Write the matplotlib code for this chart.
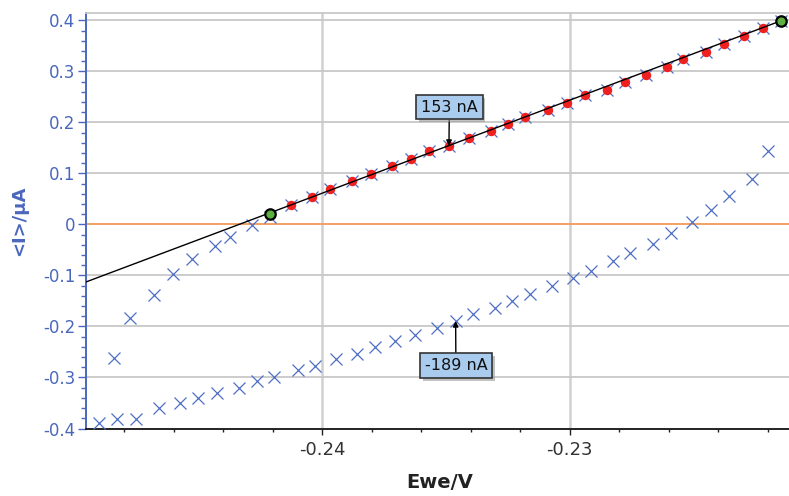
import matplotlib
matplotlib.use("Agg")
import matplotlib.pyplot as plt
from matplotlib.ticker import MultipleLocator, FuncFormatter
from matplotlib import patheffects

plt.rcParams['font.family'] = ['DejaVu Sans']
plt.rcParams['axes.unicode_minus'] = False

# ---- data (Ewe / V, <I> / uA) ----
lower_x = [-0.24903, -0.24830, -0.24752, -0.24658, -0.24576, -0.24502, -0.24425, -0.24338,
           -0.24265, -0.24196, -0.24099, -0.24029, -0.23946, -0.23861, -0.23788, -0.23707,
           -0.23625, -0.23538, -0.23461, -0.23392, -0.23302, -0.23234, -0.23161, -0.23070,
           -0.22987, -0.22916, -0.22825, -0.22758, -0.22662, -0.22592, -0.22505, -0.22430,
           -0.22357, -0.22264, -0.22198]
lower_y = [-0.3898, -0.3820, -0.3805, -0.3603, -0.3497, -0.3400, -0.3300, -0.3197,
           -0.3066, -0.2994, -0.2863, -0.2770, -0.2640, -0.2535, -0.2410, -0.2287,
           -0.2160, -0.2037, -0.1894, -0.1756, -0.1638, -0.1507, -0.1356, -0.1199,
           -0.1049, -0.0904, -0.0721, -0.0570, -0.0393, -0.0171, 0.0051, 0.0281,
           0.0556, 0.0890, 0.1446]

upper_left_x = [-0.24840, -0.24775, -0.24679, -0.24604, -0.24526, -0.24434, -0.24371, -0.24284,
                -0.24210]
upper_left_y = [-0.2620, -0.1835, -0.1390, -0.0980, -0.0676, -0.0420, -0.0243, -0.0020,
                0.0150]

fit_pts_x = [-0.24128, -0.24043, -0.23969, -0.23881, -0.23803, -0.23720, -0.23642, -0.23568,
             -0.23488, -0.23407, -0.23320, -0.23249, -0.23182, -0.23088, -0.23013, -0.22937,
             -0.22850, -0.22775, -0.22694, -0.22606, -0.22543, -0.22448, -0.22378, -0.22296,
             -0.22220]
fit_pts_y = [0.0373, 0.0536, 0.0688, 0.0850, 0.0980, 0.1145, 0.1277, 0.1440,
             0.1538, 0.1700, 0.1833, 0.1965, 0.2108, 0.2240, 0.2370, 0.2534,
             0.2633, 0.2796, 0.2920, 0.3077, 0.3242, 0.3371, 0.3536, 0.3700,
             0.3843]

end_x = [-0.24212, -0.22145]
end_y = [0.0196, 0.3994]

fit_line_x = [-0.24954, -0.22145]
fit_line_y = [-0.1128, 0.3994]

ann_labels = ["153 nA", "-189 nA"]
ann_x = [-0.23488, -0.23461]
ann_y = [0.1538, -0.1894]

x_ticks = [-0.24, -0.23]

# ---- style ----
BLUE = '#4a67bd'
XBLUE = '#4f6fc4'

fig = plt.figure(figsize=(7.89, 4.96), dpi=100)
ax = fig.add_axes([86 / 789, 1 - 428.5 / 496, 1 - 86 / 789, (428.5 - 13) / 496])

ax.set_xlim(-0.249540, -0.221146)
ax.set_ylim(-0.4, 0.4143)

# grid
for xv in x_ticks:
    ax.axvline(xv, color='#d0d0d0', lw=1.8, zorder=0)
for yv in [-0.3, -0.2, -0.1, 0.1, 0.2, 0.3, 0.4]:
    ax.axhline(yv, color='#c8c8c8', lw=1.3, zorder=0)
ax.axhline(0, color='#f29a55', lw=1.3, zorder=1)

# data
ax.plot(lower_x, lower_y, ls='none', marker='x', ms=8.5, mew=0.9, color=XBLUE, zorder=3)
up_x = upper_left_x + fit_pts_x + [end_x[1]]
up_y = upper_left_y + fit_pts_y + [end_y[1]]
ax.plot(up_x, up_y, ls='none', marker='x', ms=8.5, mew=0.9, color=XBLUE, zorder=3)
ax.plot(fit_pts_x, fit_pts_y, ls='none', marker='o', ms=6.8, mew=0, color='#ee2020', zorder=5)
ax.plot(fit_line_x, fit_line_y, color='black', lw=1.0, zorder=6)
ax.plot(end_x, end_y, ls='none', marker='o', ms=7.5, mew=1.6, mfc='#5cb040', mec='black', zorder=7)

# annotations
ann_text_pos = [(-0.234865, 0.230), (-0.23460, -0.2769)]
for lab, px, py, (tx, ty) in zip(ann_labels, ann_x, ann_y, ann_text_pos):
    a = ax.annotate(lab, xy=(px, py), xytext=(tx, ty), ha='center', va='center',
                    fontsize=11.5, color='#111111',
                    bbox=dict(boxstyle='square,pad=0.3', fc='#a9cbee', ec='#333333', lw=1.2),
                    arrowprops=dict(arrowstyle='-|>', color='black', lw=1.0,
                                    mutation_scale=8, shrinkA=0, shrinkB=0),
                    zorder=10)
    a.get_bbox_patch().set_path_effects([
        patheffects.SimplePatchShadow(offset=(2, -2), shadow_rgbFace='#999999', alpha=0.6),
        patheffects.Normal()])

# axes styling
ax.xaxis.set_major_locator(MultipleLocator(0.01))
ax.xaxis.set_minor_locator(MultipleLocator(0.002))
ax.yaxis.set_major_locator(MultipleLocator(0.1))
ax.yaxis.set_minor_locator(MultipleLocator(0.02))
ax.yaxis.set_major_formatter(FuncFormatter(lambda v, p: '0' if abs(v) < 1e-9 else f'{v:.1f}'))
ax.xaxis.set_major_formatter(FuncFormatter(lambda v, p: f'{v:.2f}'))

ax.tick_params(axis='y', which='major', direction='out', length=6, width=1.0,
               colors=BLUE, labelsize=12, pad=1.5)
ax.tick_params(axis='y', which='minor', direction='out', length=3.5, width=1.0, colors=BLUE)
ax.tick_params(axis='x', which='major', direction='out', length=4.3, width=1.0,
               colors='#222222', labelsize=13, pad=5, labelcolor='#333333')
ax.tick_params(axis='x', which='minor', direction='out', length=2, width=1.0, colors='#222222')

ax.spines['left'].set_color(BLUE)
ax.spines['left'].set_linewidth(1.4)
ax.spines['bottom'].set_color('#222222')
ax.spines['bottom'].set_linewidth(1.4)
ax.spines['top'].set_color('#c8c8c8')
ax.spines['top'].set_linewidth(1.3)
ax.spines['right'].set_visible(False)

ax.set_xlabel('Ewe/V', fontsize=14, fontweight='bold', color='#222222')
ax.xaxis.label.set_va('center')
ax.xaxis.set_label_coords(0.5036, -0.129)
ax.set_ylabel('<I>/µA', fontsize=13, fontweight='bold', color=BLUE)
ax.yaxis.label.set_va('center')
ax.yaxis.set_label_coords(-0.0946, 0.499)

fig.savefig('out.png', dpi=100)
